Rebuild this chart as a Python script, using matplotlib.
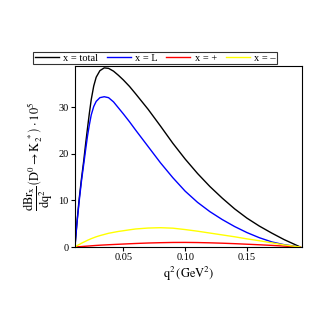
import numpy as np
import matplotlib.pyplot as plt

plt.rcParams['font.family'] = ['Liberation Serif', 'DejaVu Serif']
plt.rcParams['mathtext.fontset'] = 'stix'

# q^2 grid (GeV^2)
q2 = [0.0108, 0.0125, 0.0143, 0.016, 0.0179, 0.0195, 0.021, 0.0225, 0.024, 0.026,
      0.028, 0.031, 0.0345, 0.038, 0.042, 0.046, 0.050, 0.055, 0.060, 0.070,
      0.080, 0.090, 0.100, 0.110, 0.120, 0.130, 0.140, 0.150, 0.160, 0.170,
      0.180, 0.1932]

total = [0, 5.5, 10.5, 14.5, 18.5, 22.3, 25.6, 28.8, 31.7, 34.6,
         36.5, 37.9, 38.5, 38.4, 37.8, 36.9, 35.9, 34.5, 32.9, 29.6,
         26.0, 22.3, 18.9, 15.8, 13.0, 10.5, 8.2, 6.2, 4.5, 3.0,
         1.6, 0]
longit = [0, 5.3, 10.0, 14.0, 17.8, 21.0, 23.9, 26.3, 28.4, 30.2,
          31.3, 32.1, 32.3, 32.1, 31.2, 29.9, 28.6, 26.9, 25.1, 21.6,
          18.1, 14.9, 12.0, 9.6, 7.6, 5.9, 4.4, 3.1, 2.0, 1.1,
          0.5, 0]
plus = [0, 0.04, 0.07, 0.1, 0.14, 0.17, 0.2, 0.23, 0.26, 0.3,
        0.34, 0.39, 0.44, 0.49, 0.54, 0.59, 0.64, 0.7, 0.76, 0.86,
        0.93, 0.98, 0.99, 0.96, 0.9, 0.82, 0.72, 0.6, 0.48, 0.35,
        0.2, 0]
minus = [0, 0.3, 0.55, 0.8, 1.05, 1.25, 1.45, 1.62, 1.8, 2.0,
         2.2, 2.45, 2.7, 2.95, 3.15, 3.35, 3.5, 3.7, 3.88, 4.08,
         4.15, 4.05, 3.75, 3.4, 3.0, 2.6, 2.2, 1.75, 1.35, 0.9,
         0.45, 0]

labels = ['x = total', 'x = L', 'x = +', 'x = \u2013']
colors = ['black', 'blue', 'red', 'yellow']

fig = plt.figure(figsize=(3.27, 3.27), dpi=100, facecolor='white')
ax = fig.add_axes([0.2284, 0.2446, 0.6951, 0.5535])

for ys, lab, c in zip([total, longit, plus, minus], labels, colors):
    ax.plot(q2, ys, color=c, lw=1.0, label=lab)

ax.set_xlim(0.0106, 0.1945)
ax.set_ylim(0, 38.9)
ax.set_xticks([0.05, 0.10, 0.15])
ax.set_xticklabels(['0.05', '0.10', '0.15'])
ax.set_yticks([0, 10, 20, 30])
ax.tick_params(direction='out', length=3, width=0.8, labelsize=7.5, pad=1.5)
for s in ax.spines.values():
    s.set_linewidth(0.8)

ax.set_xlabel(r'$\mathrm{q^2\,(GeV^2)}$', fontsize=9, labelpad=2)
ax.set_ylabel(r'$\dfrac{\mathrm{dBr_x}}{\mathrm{dq^2}}\left(\mathrm{D^0}\rightarrow\mathrm{K_2^{\ *}}\right)\cdot 10^5$',
              fontsize=9, labelpad=2)

leg = fig.legend(loc='lower left', bbox_to_anchor=(0.101, 0.804, 0.746, 0.035), mode='expand',
                 ncol=4, fontsize=7.5, frameon=True, fancybox=False, edgecolor='black',
                 handlelength=2.3, handletextpad=0.4, columnspacing=0.5, borderpad=0.15,
                 borderaxespad=0)
leg.get_frame().set_linewidth(0.8)

fig.savefig('out.png', dpi=100)
